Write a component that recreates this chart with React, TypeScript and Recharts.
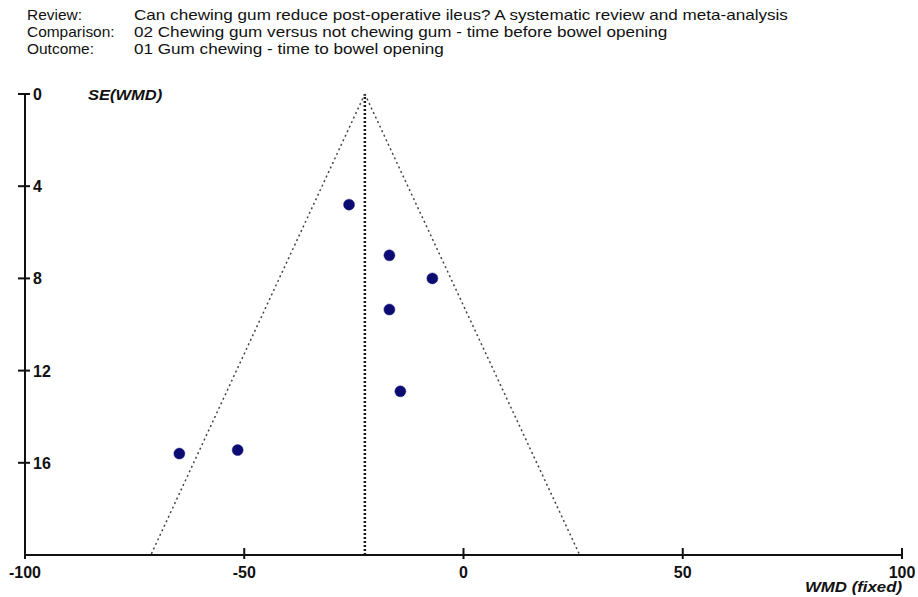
import React from 'react';
import {
  ScatterChart,
  Scatter,
  XAxis,
  YAxis,
  ReferenceLine,
} from 'recharts';

// study estimates
const wmd = [-26.1, -16.9, -7.1, -16.9, -14.4, -51.5, -64.8];
const se = [4.8, 7.0, 8.0, 9.35, 12.9, 15.45, 15.6];

const pooled = -22.5;
const funnelBottomLeft = -71.3;
const funnelBottomRight = 26.5;

const xTicks = [-100, -50, 0, 50, 100];
const yTicks = [0, 4, 8, 12, 16];

const headerLabels = ['Review:', 'Comparison:', 'Outcome:'];
const headerValues = [
  'Can chewing gum reduce post-operative ileus? A systematic review and meta-analysis',
  '02 Chewing gum versus not chewing gum - time before bowel opening',
  '01 Gum chewing - time to bowel opening',
];

const points = wmd.map((x, i) => ({ x, y: se[i] }));

const FONT = '"Liberation Sans", Arial, sans-serif';

const YTick = (props: any) => {
  const { x, y, payload } = props;
  return (
    <g>
      <line x1={x - 7} x2={x + 5} y1={y} y2={y} stroke="#111" strokeWidth={2} />
      <text x={x + 8} y={y + 6} fontSize={16} fontWeight="bold" fill="#111" fontFamily={FONT}>
        {payload.value}
      </text>
    </g>
  );
};

const XTick = (props: any) => {
  const { x, y, payload } = props;
  return (
    <g>
      <line x1={x} x2={x} y1={y - 7} y2={y + 4} stroke="#111" strokeWidth={2} />
      <text x={x} y={y + 23} textAnchor="middle" fontSize={16} fontWeight="bold" fill="#111" fontFamily={FONT}>
        {payload.value}
      </text>
    </g>
  );
};

const Dot = (props: any) => {
  const { cx, cy } = props;
  return <circle cx={cx} cy={cy} r={5.5} fill="#0b0b72" stroke="#1a1a8a" strokeWidth={0.5} />;
};

const headerStyle = (top: number, left: number, scale: number): React.CSSProperties => ({
  position: 'absolute',
  top,
  left,
  fontSize: 15,
  color: '#111',
  lineHeight: '17px',
  whiteSpace: 'nowrap',
  transform: `scaleX(${scale})`,
  transformOrigin: 'left center',
});

export default function App() {
  return (
    <div style={{ position: 'absolute', left: 0, top: 0, width: 918, height: 597, background: '#fff', fontFamily: FONT }}>
      {headerLabels.map((label, i) => (
        <div key={'l' + i} style={headerStyle(6 + i * 17, 27, 1.03)}>{label}</div>
      ))}
      {headerValues.map((val, i) => (
        <div key={'v' + i} style={headerStyle(6 + i * 17, 134, 1.14)}>{val}</div>
      ))}
      <div
        style={{
          position: 'absolute', left: 88, top: 86, fontSize: 15, fontStyle: 'italic', fontWeight: 'bold', color: '#111',
          transform: 'scaleX(1.1)', transformOrigin: 'left center',
        }}
      >
        SE(WMD)
      </div>
      <div
        style={{
          position: 'absolute', left: 805, top: 578, fontSize: 15, fontStyle: 'italic', fontWeight: 'bold', color: '#111',
          transform: 'scaleX(1.12)', transformOrigin: 'left center',
        }}
      >
        WMD (fixed)
      </div>
      <ScatterChart width={918} height={597} margin={{ top: 94, right: 16, left: 0, bottom: 0 }}>
        <XAxis
          type="number"
          dataKey="x"
          domain={[-100, 100]}
          ticks={xTicks}
          height={42}
          axisLine={{ stroke: '#111', strokeWidth: 2 }}
          tickLine={false}
          tickSize={0}
          tickMargin={0}
          tick={<XTick />}
          interval={0}
        />
        <YAxis
          type="number"
          dataKey="y"
          domain={[0, 20]}
          reversed
          ticks={yTicks}
          width={25}
          axisLine={{ stroke: '#111', strokeWidth: 2 }}
          tickLine={false}
          tickSize={0}
          tickMargin={0}
          tick={<YTick />}
          interval={0}
        />
        <ReferenceLine x={pooled} stroke="#1a1a1a" strokeWidth={2.5} strokeDasharray="2 2" />
        <ReferenceLine
          segment={[{ x: pooled, y: 0 }, { x: funnelBottomLeft, y: 20 }]}
          stroke="#444"
          strokeWidth={1.5}
          strokeDasharray="2 3"
        />
        <ReferenceLine
          segment={[{ x: pooled, y: 0 }, { x: funnelBottomRight, y: 20 }]}
          stroke="#444"
          strokeWidth={1.5}
          strokeDasharray="2 3"
        />
        <Scatter data={points} shape={<Dot />} isAnimationActive={false} />
      </ScatterChart>
    </div>
  );
}
